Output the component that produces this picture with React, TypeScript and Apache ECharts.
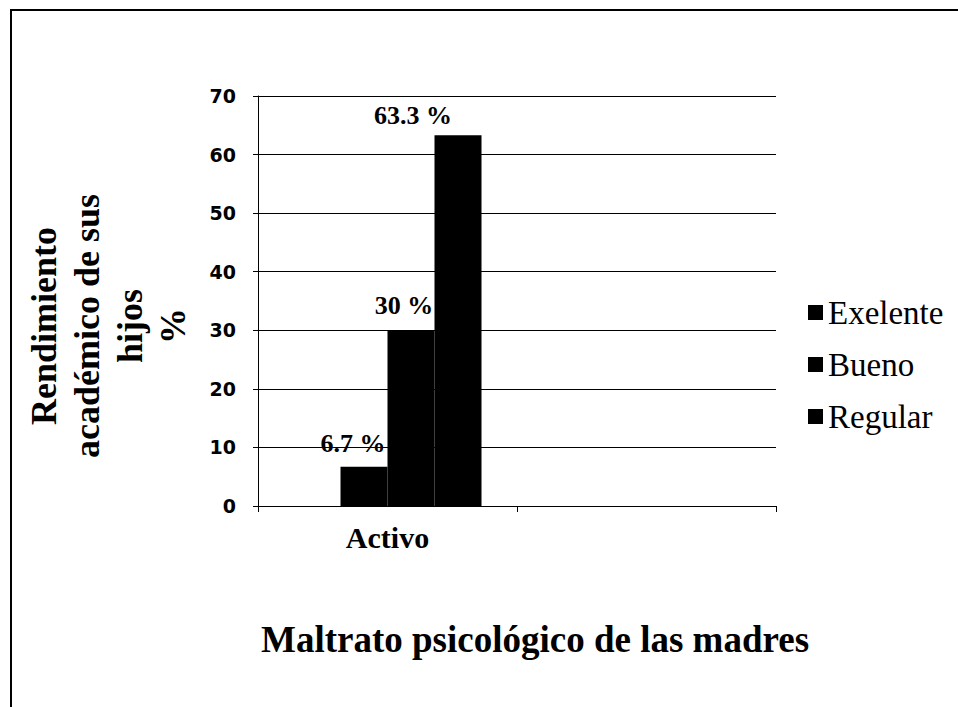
import React, { useEffect, useRef } from "react";
import * as echarts from "echarts";

// ---- data ----
const categories = ["Activo", ""];
const seriesNames = ["Exelente", "Bueno", "Regular"];
const spacerValues = [null, null]; // empty slot that precedes the three bars in the group
const exelenteValues = [6.7, null];
const buenoValues = [30, null];
const regularValues = [63.3, null];
const yTicks = { min: 0, max: 70, interval: 10 };
const xTitle = "Maltrato psicológico de las madres";
const yTitle = "Rendimiento\nacadémico de sus\nhijos\n%";

export default function App() {
  const ref = useRef<HTMLDivElement>(null);

  useEffect(() => {
    if (!ref.current) return;
    const chart = echarts.init(ref.current, null, { renderer: "svg" });

    const labelStyle = (dx: number, dist: number) => ({
      show: true,
      position: "top",
      distance: dist,
      offset: [dx, 0],
      formatter: (p: any) => `${p.value} %`,
      color: "#000",
      fontFamily: "Liberation Serif",
      fontWeight: "bold",
      fontSize: 26,
    });

    const barBase = {
      type: "bar",
      barWidth: 47,
      barGap: "0%",
      itemStyle: { color: "#000" },
    };

    const option: any = {
      animation: false,
      backgroundColor: "#fff",
      grid: { left: 258, right: 182, top: 96, bottom: 201, containLabel: false },
      legend: {
        data: seriesNames,
        orient: "vertical",
        left: 803,
        top: 291,
        icon: "rect",
        itemWidth: 15,
        itemHeight: 15,
        itemGap: 19,
        textStyle: {
          fontFamily: "Liberation Serif",
          fontSize: 33,
          lineHeight: 32,
          color: "#000",
        },
      },
      xAxis: {
        type: "category",
        data: categories,
        boundaryGap: true,
        axisLine: { lineStyle: { color: "#000", width: 1 } },
        axisTick: { show: true, length: 6, lineStyle: { color: "#000" } },
        axisLabel: {
          color: "#000",
          fontFamily: "Liberation Serif",
          fontWeight: "bold",
          fontSize: 30,
          margin: 16,
        },
        name: xTitle,
        nameLocation: "middle",
        nameGap: 115,
        nameTextStyle: {
          color: "#000",
          fontFamily: "Liberation Serif",
          fontWeight: "bold",
          fontSize: 37,
          padding: [0, 0, 0, 36],
        },
      },
      yAxis: {
        type: "value",
        min: yTicks.min,
        max: yTicks.max,
        interval: yTicks.interval,
        axisLine: { show: true, lineStyle: { color: "#000", width: 1 } },
        axisTick: { show: true, length: 5, lineStyle: { color: "#000" } },
        splitLine: { show: true, lineStyle: { color: "#000", width: 1 } },
        axisLabel: {
          color: "#000",
          fontFamily: "DejaVu Sans",
          fontWeight: "bold",
          fontSize: 19,
          margin: 22,
        },
      },
      graphic: [
        {
          type: "rect",
          z: -10,
          shape: { x: 11, y: 10, width: 1000, height: 800 },
          style: { fill: "none", stroke: "#000", lineWidth: 2 },
          silent: true,
        },
        {
          type: "text",
          x: 108,
          y: 326,
          rotation: Math.PI / 2,
          style: {
            text: yTitle,
            fontFamily: "Liberation Serif",
            fontWeight: "bold",
            fontSize: 36,
            lineHeight: 43,
            align: "center",
            verticalAlign: "middle",
            fill: "#000",
          },
        },
      ],
      series: [
        { ...barBase, name: "spacer", data: spacerValues, label: { show: false } },
        { ...barBase, name: seriesNames[0], data: exelenteValues, label: labelStyle(-11, 10) },
        { ...barBase, name: seriesNames[1], data: buenoValues, label: labelStyle(-7, 12) },
        { ...barBase, name: seriesNames[2], data: regularValues, label: labelStyle(-45, 7) },
      ],
    };

    chart.setOption(option);
    return () => chart.dispose();
  }, []);

  return (
    <div
      ref={ref}
      style={{ position: "fixed", left: 0, top: 0, width: 958, height: 707, background: "#fff" }}
    />
  );
}
